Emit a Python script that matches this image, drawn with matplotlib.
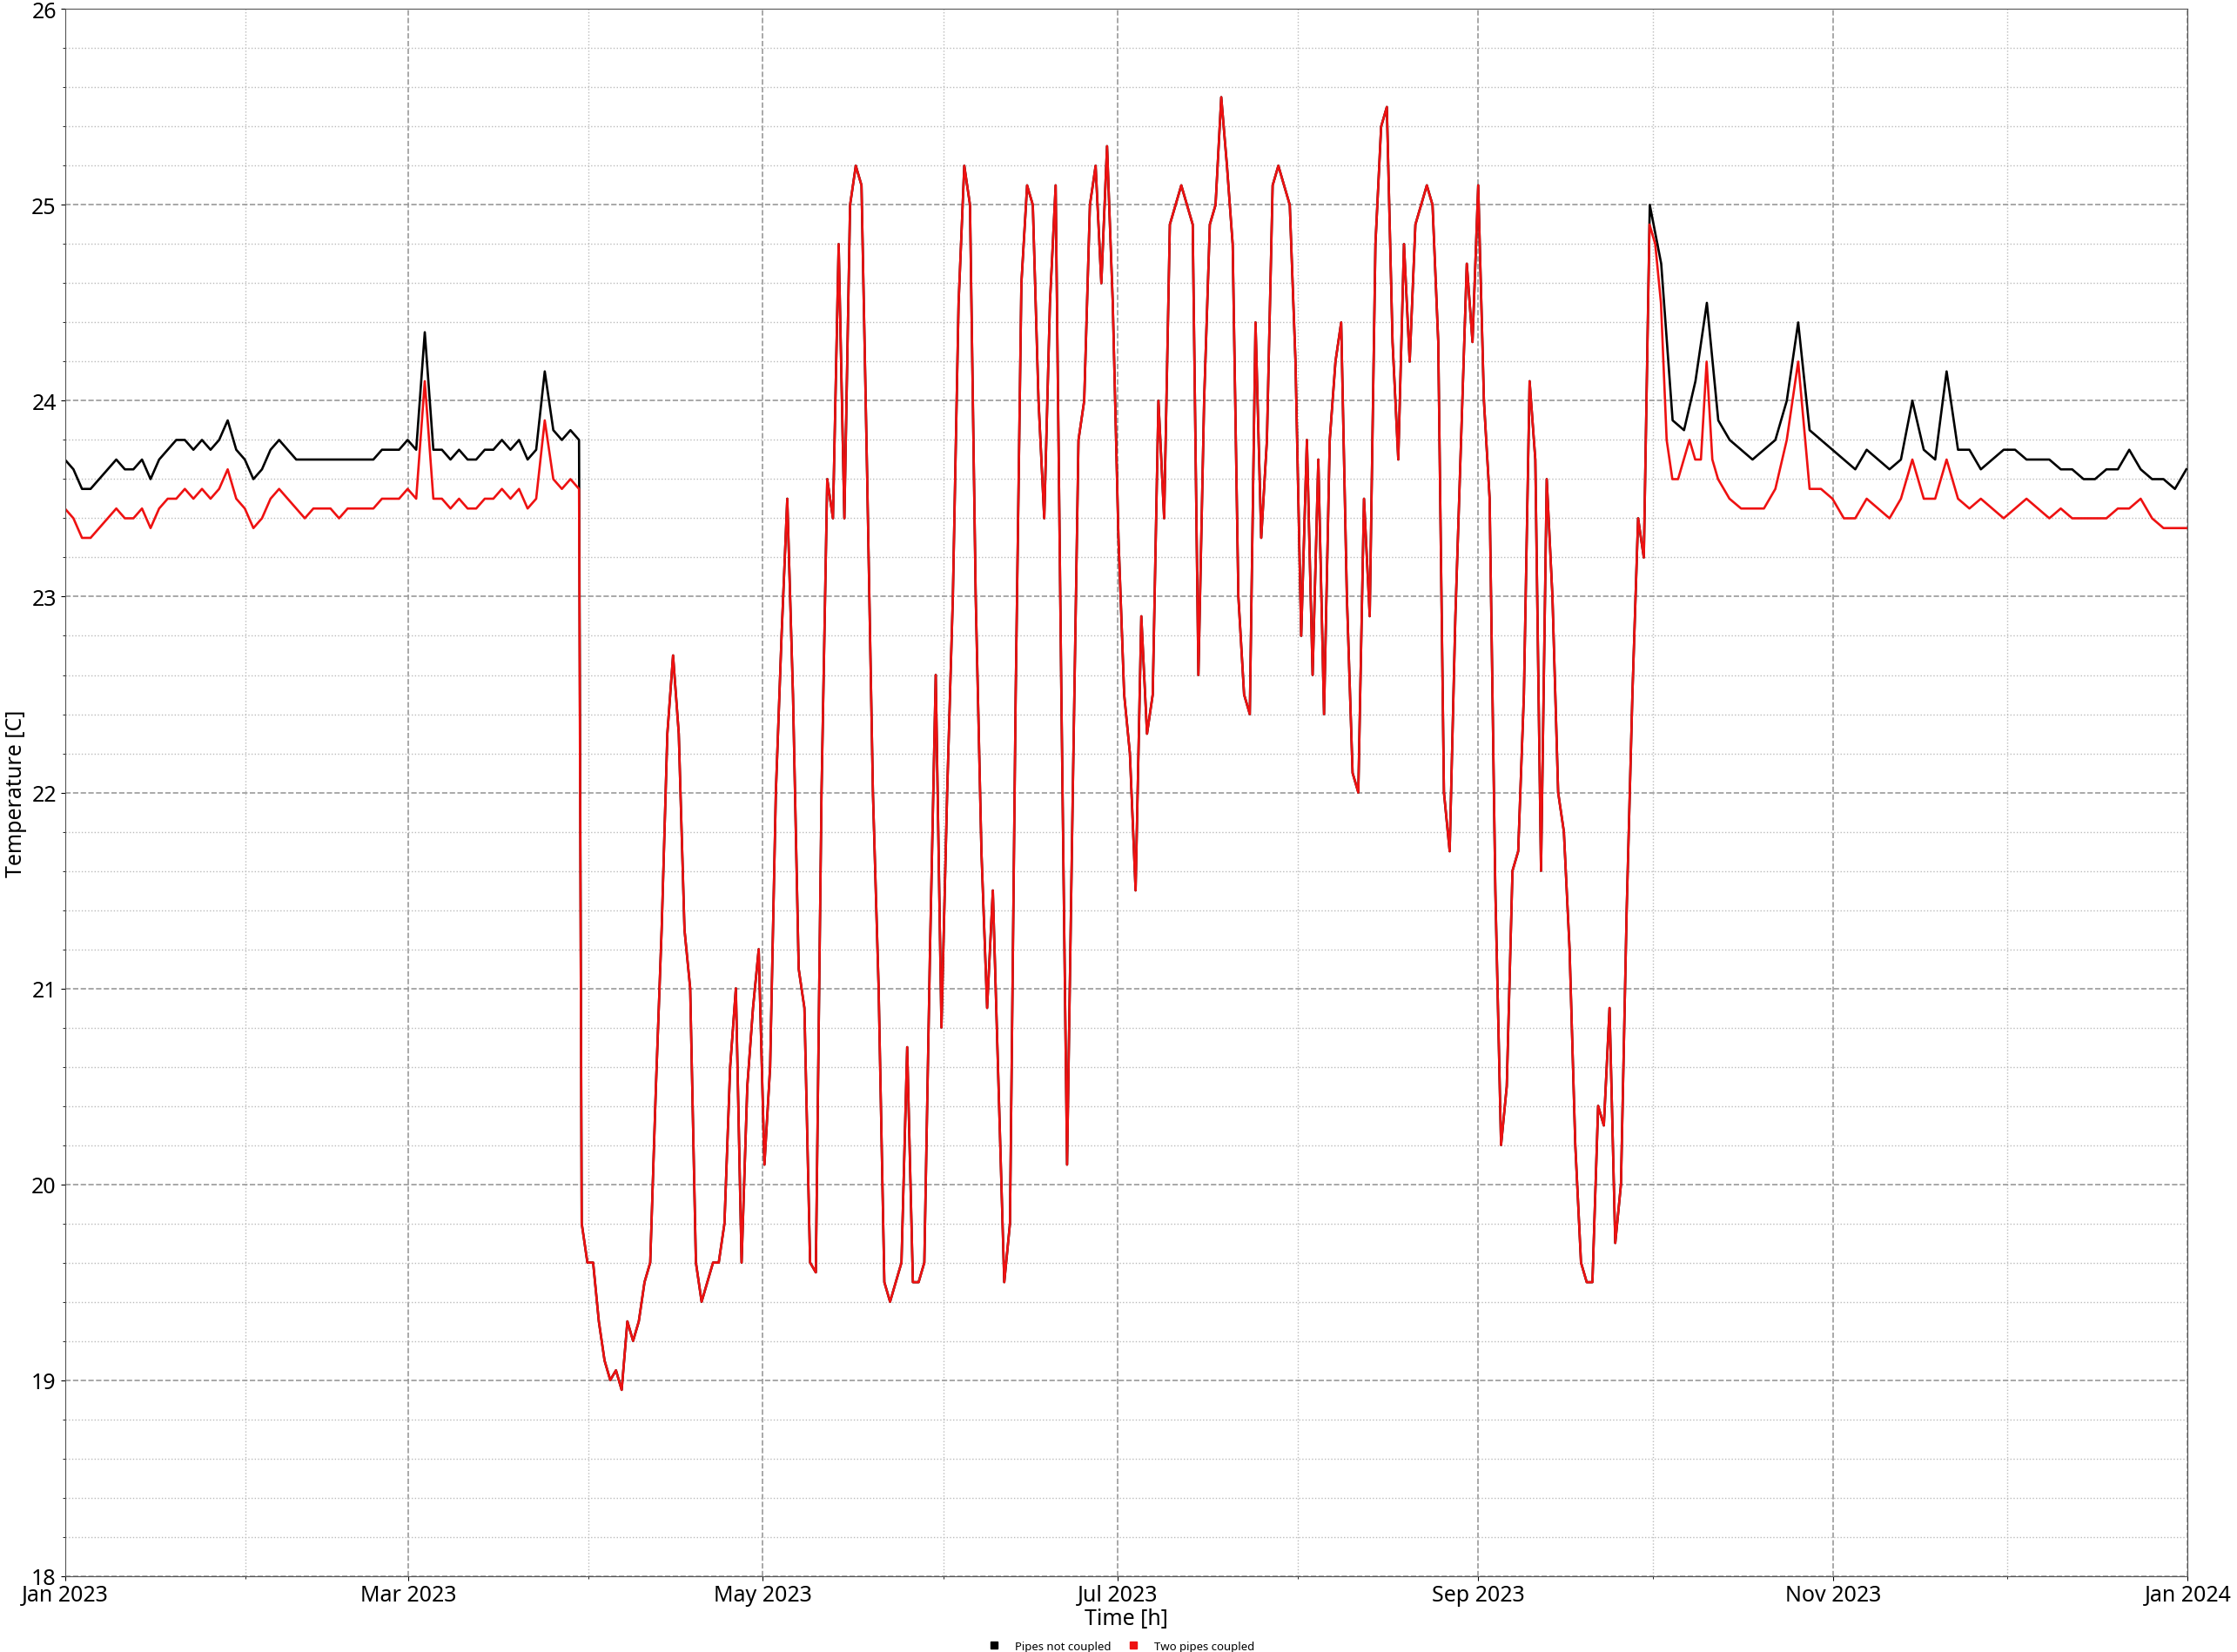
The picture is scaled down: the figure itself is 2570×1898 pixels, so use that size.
import numpy as np
import pandas as pd
import matplotlib
matplotlib.use('Agg')
import matplotlib.pyplot as plt
import matplotlib.dates as mdates
from matplotlib.ticker import MultipleLocator
from matplotlib.lines import Line2D

plt.rcParams['font.family'] = ['Noto Sans', 'DejaVu Sans']

# --- values (day of year ranges + temperatures) ---
winter_days = (0.0, 88.4)
red_winter = [23.45, 23.4, 23.3, 23.3, 23.35, 23.4, 23.45, 23.4, 23.4, 23.45, 23.35, 23.45,
              23.5, 23.5, 23.55, 23.5, 23.55, 23.5, 23.55, 23.65, 23.5, 23.45, 23.35, 23.4,
              23.5, 23.55, 23.5, 23.45, 23.4, 23.45, 23.45, 23.45, 23.4, 23.45, 23.45, 23.45,
              23.45, 23.5, 23.5, 23.5, 23.55, 23.5, 24.1, 23.5, 23.5, 23.45, 23.5, 23.45,
              23.45, 23.5, 23.5, 23.55, 23.5, 23.55, 23.45, 23.5, 23.9, 23.6, 23.55, 23.6, 23.55]
black_winter = [23.7, 23.65, 23.55, 23.55, 23.6, 23.65, 23.7, 23.65, 23.65, 23.7, 23.6, 23.7,
                23.75, 23.8, 23.8, 23.75, 23.8, 23.75, 23.8, 23.9, 23.75, 23.7, 23.6, 23.65,
                23.75, 23.8, 23.75, 23.7, 23.7, 23.7, 23.7, 23.7, 23.7, 23.7, 23.7, 23.7,
                23.7, 23.75, 23.75, 23.75, 23.8, 23.75, 24.35, 23.75, 23.75, 23.7, 23.75, 23.7,
                23.7, 23.75, 23.75, 23.8, 23.75, 23.8, 23.7, 23.75, 24.15, 23.85, 23.8, 23.85, 23.8]

summer_days = (88.86, 286.2)
summer = [19.8, 19.6, 19.6, 19.3, 19.1, 19.0, 19.05, 18.95, 19.3, 19.2, 19.3, 19.5, 19.6, 20.5,
          21.3, 22.3, 22.7, 22.3, 21.3, 21.0, 19.6, 19.4, 19.5, 19.6, 19.6, 19.8, 20.6, 21.0,
          19.6, 20.5, 20.9, 21.2, 20.1, 20.6, 22.0, 22.8, 23.5, 22.5, 21.1, 20.9, 19.6, 19.55,
          22.0, 23.6, 23.4, 24.8, 23.4, 25.0, 25.2, 25.1, 23.6, 22.0, 21.0, 19.5, 19.4, 19.5,
          19.6, 20.7, 19.5, 19.5, 19.6, 21.2, 22.6, 20.8, 22.0, 23.0, 24.5, 25.2, 25.0, 23.0,
          21.7, 20.9, 21.5, 20.5, 19.5, 19.8, 22.5, 24.6, 25.1, 25.0, 24.0, 23.4, 24.5, 25.1,
          22.5, 20.1, 22.0, 23.8, 24.0, 25.0, 25.2, 24.6, 25.3, 24.5, 23.3, 22.5, 22.2, 21.5,
          22.9, 22.3, 22.5, 24.0, 23.4, 24.9, 25.0, 25.1, 25.0, 24.9, 22.6, 24.0, 24.9, 25.0,
          25.55, 25.2, 24.8, 23.0, 22.5, 22.4, 24.4, 23.3, 23.8, 25.1, 25.2, 25.1, 25.0, 24.2,
          22.8, 23.8, 22.6, 23.7, 22.4, 23.8, 24.2, 24.4, 23.0, 22.1, 22.0, 23.5, 22.9, 24.8,
          25.4, 25.5, 24.3, 23.7, 24.8, 24.2, 24.9, 25.0, 25.1, 25.0, 24.3, 22.0, 21.7, 22.9,
          23.8, 24.7, 24.3, 25.1, 24.0, 23.5, 21.5, 20.2, 20.5, 21.6, 21.7, 22.5, 24.1, 23.7,
          21.6, 23.6, 23.0, 22.0, 21.8, 21.2, 20.2, 19.6, 19.5, 19.5, 20.4, 20.3, 20.9, 19.7,
          20.0, 21.4, 22.5, 23.4, 23.2, 24.9, 24.8, 24.5, 23.8, 23.6, 23.6, 23.7, 23.8, 23.7,
          23.7, 24.2, 23.7, 23.6, 23.55, 23.5]
black_summer_end = 272.0  # black leaves the red line here

red_autumn_days = (288.2, 364.75)
red_autumn = [23.45, 23.45, 23.45, 23.55, 23.8, 24.2, 23.55, 23.55, 23.5, 23.4, 23.4, 23.5,
              23.45, 23.4, 23.5, 23.7, 23.5, 23.5, 23.7, 23.5, 23.45, 23.5, 23.45, 23.4,
              23.45, 23.5, 23.45, 23.4, 23.45, 23.4, 23.4, 23.4, 23.4, 23.45, 23.45, 23.5,
              23.4, 23.35, 23.35, 23.35]
black_autumn_days = (272.5, 364.75)
black_autumn = [25.0, 24.7, 23.9, 23.85, 24.1, 24.5, 23.9, 23.8, 23.75, 23.7, 23.75, 23.8,
                24.0, 24.4, 23.85, 23.8, 23.75, 23.7, 23.65, 23.75, 23.7, 23.65, 23.7, 24.0,
                23.75, 23.7, 24.15, 23.75, 23.75, 23.65, 23.7, 23.75, 23.75, 23.7, 23.7, 23.7,
                23.65, 23.65, 23.6, 23.6, 23.65, 23.65, 23.75, 23.65, 23.6, 23.6, 23.55, 23.65]

start = pd.Timestamp('2023-01-01')


def times(rng, n):
    return start + pd.to_timedelta(np.linspace(rng[0], rng[1], n), unit='D')


t_w = times(winter_days, len(red_winter))
t_s = times(summer_days, len(summer))
t_ra = times(red_autumn_days, len(red_autumn))
t_ba = times(black_autumn_days, len(black_autumn))

cut = t_s <= start + pd.Timedelta(days=black_summer_end)

black_t = list(t_w) + list(t_s[cut]) + list(t_ba)
black_v = black_winter + list(np.array(summer)[cut]) + black_autumn
red_t = list(t_w) + list(t_s) + list(t_ra)
red_v = red_winter + summer + red_autumn

fig = plt.figure(figsize=(25.7, 18.99), dpi=100)
ax = fig.add_axes([0.029, 0.046, 0.949, 0.948])
ax.plot(black_t, black_v, color='black', lw=1.9)
ax.plot(red_t, red_v, color='#ee1111', lw=1.9)

ax.set_xlim(start, pd.Timestamp('2024-01-01'))
ax.set_ylim(18, 26)
ax.xaxis.set_major_locator(mdates.MonthLocator(bymonth=[1, 3, 5, 7, 9, 11]))
ax.xaxis.set_minor_locator(mdates.MonthLocator())
ax.xaxis.set_major_formatter(mdates.DateFormatter('%b %Y'))
ax.yaxis.set_major_locator(MultipleLocator(1))
ax.yaxis.set_minor_locator(MultipleLocator(0.2))
ax.grid(which='major', ls='--', color='#999999', lw=1.2)
ax.grid(which='minor', ls=':', color='#bbbbbb', lw=1.0)
ax.tick_params(labelsize=18)
for s in ax.spines.values():
    s.set_color('#555555')
ax.set_xlabel('Time [h]', fontsize=18, labelpad=1)
ax.set_ylabel('Temperature [C]', fontsize=18)

handles = [Line2D([], [], ls='', marker='s', color='black', markersize=6),
           Line2D([], [], ls='', marker='s', color='#ee1111', markersize=6)]
fig.legend(handles, ['Pipes not coupled', 'Two pipes coupled'], loc='lower center',
           ncol=2, frameon=False, fontsize=9.5, bbox_to_anchor=(0.5, -0.006),
           handletextpad=0.8, columnspacing=1.0)

fig.savefig('out.png', dpi=100)
